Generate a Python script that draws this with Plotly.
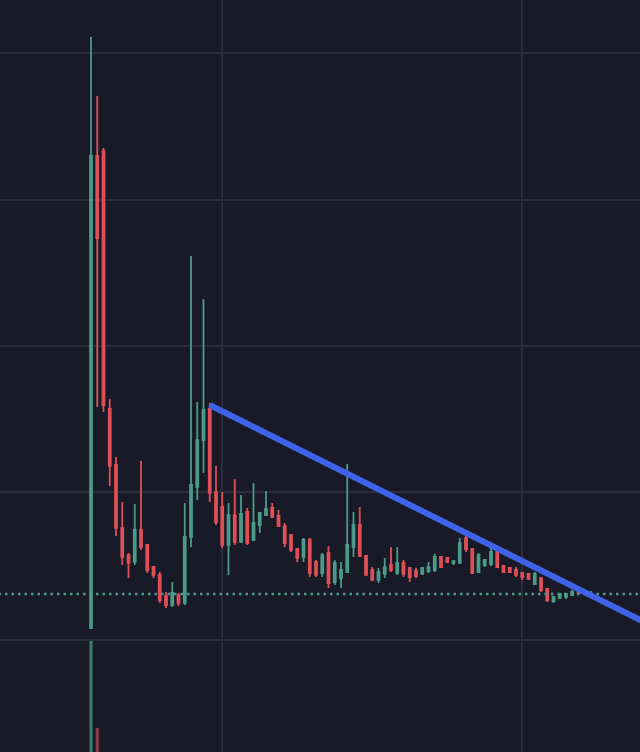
import plotly.graph_objects as go

# ---- data (price units, grid lines at 1,2,3,4) ----
opens = [0.075, 3.297, 3.331, 1.570, 1.188, 0.758, 0.573, 0.526, 0.744, 0.642,
         0.491, 0.437, 0.294, 0.232, 0.300, 0.246, 0.696, 1.038, 1.358, 1.570,
         1.003, 0.901, 0.642, 0.846, 0.662, 0.867, 0.676, 0.778, 0.846, 0.894,
         0.840, 0.771, 0.710, 0.614, 0.560, 0.676, 0.526, 0.451, 0.587, 0.389,
         0.416, 0.457, 0.628, 0.778, 0.567, 0.471, 0.403, 0.444, 0.505, 0.451,
         0.519, 0.485, 0.464, 0.444, 0.464, 0.471, 0.560, 0.553, 0.519, 0.519,
         0.689, 0.614, 0.457, 0.505, 0.512, 0.614, 0.498, 0.485, 0.471, 0.451,
         0.444, 0.375, 0.416, 0.341, 0.259, 0.280, 0.287, 0.300, 0.348, 0.328,
         0.300]
highs = [4.109, 3.706, 3.352, 1.638, 1.242, 0.935, 0.587, 0.922, 1.215, 0.648,
         0.498, 0.457, 0.321, 0.389, 0.314, 0.928, 2.614, 1.618, 2.321, 1.611,
         1.181, 1.003, 0.928, 1.092, 0.983, 0.894, 1.065, 0.867, 1.010, 0.928,
         0.881, 0.792, 0.717, 0.621, 0.689, 0.689, 0.539, 0.587, 0.635, 0.539,
         0.526, 1.195, 0.867, 0.901, 0.573, 0.491, 0.485, 0.553, 0.628, 0.628,
         0.539, 0.491, 0.485, 0.491, 0.526, 0.580, 0.567, 0.560, 0.539, 0.689,
         0.737, 0.621, 0.587, 0.546, 0.628, 0.642, 0.505, 0.491, 0.491, 0.457,
         0.451, 0.457, 0.423, 0.348, 0.294, 0.314, 0.314, 0.334, 0.355, 0.341,
         0.328]
lows = [0.070, 1.584, 1.549, 1.044, 0.703, 0.505, 0.416, 0.505, 0.608, 0.451,
        0.416, 0.246, 0.212, 0.218, 0.225, 0.232, 0.628, 0.949, 1.133, 0.935,
        0.778, 0.621, 0.437, 0.642, 0.655, 0.642, 0.669, 0.724, 0.840, 0.826,
        0.765, 0.628, 0.594, 0.526, 0.526, 0.423, 0.423, 0.423, 0.348, 0.369,
        0.348, 0.451, 0.560, 0.560, 0.430, 0.396, 0.382, 0.416, 0.457, 0.437,
        0.423, 0.389, 0.416, 0.437, 0.451, 0.457, 0.485, 0.519, 0.505, 0.512,
        0.594, 0.444, 0.451, 0.491, 0.498, 0.485, 0.451, 0.451, 0.423, 0.403,
        0.403, 0.369, 0.321, 0.253, 0.246, 0.273, 0.273, 0.294, 0.307, 0.300,
        0.294]
closes = [3.297, 2.737, 1.597, 1.181, 0.758, 0.560, 0.519, 0.744, 0.628, 0.471,
          0.437, 0.266, 0.232, 0.314, 0.246, 0.696, 1.051, 1.358, 1.563, 0.997,
          0.799, 0.642, 0.846, 0.662, 0.853, 0.655, 0.792, 0.860, 0.887, 0.833,
          0.771, 0.655, 0.608, 0.553, 0.676, 0.451, 0.437, 0.573, 0.382, 0.519,
          0.471, 0.642, 0.778, 0.567, 0.437, 0.403, 0.457, 0.491, 0.471, 0.519,
          0.444, 0.423, 0.430, 0.485, 0.491, 0.560, 0.491, 0.526, 0.532, 0.655,
          0.614, 0.451, 0.573, 0.539, 0.594, 0.491, 0.457, 0.457, 0.437, 0.423,
          0.410, 0.444, 0.334, 0.266, 0.287, 0.307, 0.307, 0.321, 0.314, 0.314,
          0.307]
volumes = [300, 21.6] + [0] * 79
last_price = 0.307
trend_x = [19, 92]
trend_y = [1.597, 0.042]
grid_prices = [1, 2, 3, 4]
grid_bars = [21, 69]

# ---- styles ----
BG = "#181b27"
GRID = "#2b2e3a"
UP = "#4c9a88"
DOWN = "#dd5058"
UP_VOL = "#3c7a6e"
DOWN_VOL = "#8a3c46"
BLUE = "#3f62e8"

idx = list(range(len(opens)))
vol_colors = [UP_VOL if c >= o else DOWN_VOL for o, c in zip(opens, closes)]

fig = go.Figure()

fig.add_trace(go.Scatter(
    x=[-20, 100], y=[last_price, last_price], mode="lines",
    line=dict(color=UP, width=2.5, dash="2.5px,4px"),
    hoverinfo="skip", showlegend=False, xaxis="x", yaxis="y"))

fig.add_trace(go.Candlestick(
    x=idx, open=opens, high=highs, low=lows, close=closes,
    increasing=dict(line=dict(color=UP, width=1.8), fillcolor=UP),
    decreasing=dict(line=dict(color=DOWN, width=1.8), fillcolor=DOWN),
    whiskerwidth=0, showlegend=False, xaxis="x", yaxis="y"))

fig.add_trace(go.Scatter(
    x=trend_x, y=trend_y, mode="lines",
    line=dict(color=BLUE, width=6),
    hoverinfo="skip", showlegend=False, xaxis="x", yaxis="y"))

fig.add_trace(go.Bar(
    x=idx, y=volumes, marker=dict(color=vol_colors, line=dict(width=0)),
    width=0.5, showlegend=False, xaxis="x2", yaxis="y2"))

xr = [-14.56, 87.84]
common_x = dict(range=xr, showticklabels=False, ticks="", tickvals=grid_bars,
                showgrid=True, gridcolor=GRID, gridwidth=1.5, zeroline=False,
                rangeslider=dict(visible=False), fixedrange=True)

fig.update_layout(
    width=640, height=752,
    margin=dict(l=0, r=0, t=0, b=0),
    paper_bgcolor=BG, plot_bgcolor=BG,
    boxgap=0.55,
    xaxis=dict(**common_x, anchor="y"),
    xaxis2=dict(**common_x, anchor="y2", matches="x"),
    yaxis=dict(domain=[0.1503, 1], range=[0, 4.362], tickvals=grid_prices,
               showticklabels=False, showgrid=True, gridcolor=GRID, gridwidth=1.5,
               zeroline=False, fixedrange=True),
    yaxis2=dict(domain=[0, 0.1476], range=[0, 100], showticklabels=False,
                showgrid=False, zeroline=False, fixedrange=True),
    shapes=[dict(type="line", xref="paper", yref="paper", x0=0, x1=1,
                 y0=0.1503 - 0.0013, y1=0.1503 - 0.0013,
                 line=dict(color="#2c2f3b", width=2))],
    showlegend=False,
)

fig.write_html(
    "out.html",
    config={"displayModeBar": False, "responsive": False},
    post_script="document.body.style.margin='0';document.body.style.background='%s';" % BG,
)
